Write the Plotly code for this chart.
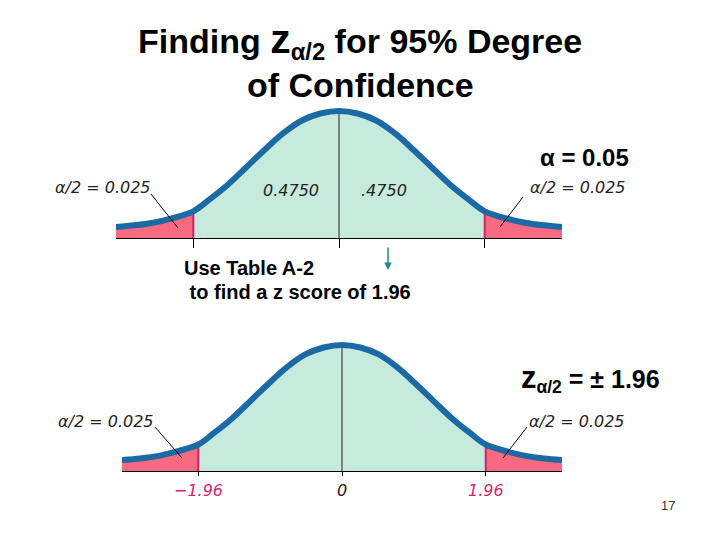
import plotly.graph_objects as go

# curve heights (peak scaled to 0.40), same shape in both panels
z = [-3.0, -2.75, -2.5, -2.25, -1.96, -1.75, -1.5, -1.25, -1.0, -0.75, -0.5, -0.25, 0.0,
     0.25, 0.5, 0.75, 1.0, 1.25, 1.5, 1.75, 1.96, 2.25, 2.5, 2.75, 3.0]
height = [0.035, 0.040, 0.048, 0.062, 0.084, 0.120, 0.167, 0.222, 0.278, 0.330, 0.370, 0.392, 0.400,
          0.392, 0.370, 0.330, 0.278, 0.222, 0.167, 0.120, 0.084, 0.062, 0.048, 0.040, 0.035]
crit = 1.96
tick_vals = [-1.96, 0, 1.96]
tick_text = ["\u22121.96", "0", "1.96"]
tail_label = "\u03b1/2 = 0.025"
center_labels = ["0.4750", ".4750"]

BLUE = "#1b6aa5"
MINT = "#c6eadb"
PINK = "#f86a80"
MAGENTA = "#d81e6e"

W, H = 720, 540


def px(x):
    return x / W


def py(y):
    return 1 - y / H


i_lo = z.index(-crit)
i_hi = z.index(crit)
i_mid = z.index(0.0)

fig = go.Figure()

panels = [("x", "y"), ("x2", "y2")]
for xa, ya in panels:
    common = dict(xaxis=xa, yaxis=ya, mode="lines", line_shape="spline",
                  hoverinfo="skip", showlegend=False)
    # tails and centre area
    fig.add_trace(go.Scatter(x=z[:i_lo + 1], y=height[:i_lo + 1], fill="tozeroy",
                             fillcolor=PINK, line=dict(width=0, color=PINK), **common))
    fig.add_trace(go.Scatter(x=z[i_lo:i_hi + 1], y=height[i_lo:i_hi + 1], fill="tozeroy",
                             fillcolor=MINT, line=dict(width=0, color=MINT), **common))
    fig.add_trace(go.Scatter(x=z[i_hi:], y=height[i_hi:], fill="tozeroy",
                             fillcolor=PINK, line=dict(width=0, color=PINK), **common))
    # centre line and critical value lines
    fig.add_trace(go.Scatter(x=[0, 0], y=[0, height[i_mid]], xaxis=xa, yaxis=ya, mode="lines",
                             line=dict(color="#222222", width=1), hoverinfo="skip", showlegend=False))
    for i in (i_lo, i_hi):
        fig.add_trace(go.Scatter(x=[z[i], z[i]], y=[0, height[i]], xaxis=xa, yaxis=ya, mode="lines",
                                 line=dict(color=MAGENTA, width=2), hoverinfo="skip", showlegend=False))
    fig.add_trace(go.Scatter(x=z, y=height, line=dict(color=BLUE, width=6), **common))

axis_x = dict(range=[-3, 3], showgrid=False, zeroline=False, showline=True, linecolor="black",
              linewidth=1, ticks="outside", tickvals=tick_vals, tickcolor="black", tickwidth=1,
              showticklabels=False, fixedrange=True)
axis_y = dict(range=[0, 0.45], visible=False, showgrid=False, zeroline=False, fixedrange=True)

fig.update_layout(
    width=W, height=H,
    margin=dict(l=0, r=0, t=0, b=0),
    paper_bgcolor="white", plot_bgcolor="rgba(0,0,0,0)",
    xaxis=dict(axis_x, domain=[px(116), px(562)], anchor="y", ticklen=9),
    yaxis=dict(axis_y, domain=[py(238), py(95.1)], anchor="x"),
    xaxis2=dict(axis_x, domain=[px(122), px(562)], anchor="y2", ticklen=4),
    yaxis2=dict(axis_y, domain=[py(471), py(329.25)], anchor="x2"),
    font=dict(family="Liberation Sans, Arial", color="black"),
)

ann = []
# title
ann.append(dict(x=px(360), y=py(40), text="<b>Finding <span style='font-size:41px'>z</span>"
                "<sub>\u03b1/2</sub> for 95% Degree</b>", font=dict(size=34)))
ann.append(dict(x=px(360), y=py(85), text="<b>of Confidence</b>", font=dict(size=34)))
ann.append(dict(x=px(584), y=py(157), text="<b>\u03b1 = 0.05</b>", font=dict(size=24)))
ann.append(dict(x=px(590), y=py(378), text="<b><span style='font-size:31px'>z</span>"
                "<sub>\u03b1/2</sub> = \u00b1 1.96</b>", font=dict(size=25)))
ann.append(dict(x=px(182), y=py(268), text="<b>Use Table A-2</b>", xanchor="left", font=dict(size=20)))
ann.append(dict(x=px(182), y=py(292), text="<b> to find a z score of 1.96</b>", xanchor="left",
                font=dict(size=20)))
ann.append(dict(x=px(668), y=py(505), text="17", font=dict(size=13, color="#333333")))

# tail / area labels
thin = dict(family="DejaVu Sans, Liberation Sans", size=16, color="#222222")
for cx, cy in [(103, 187), (578, 187), (106, 421), (577, 421)]:
    ann.append(dict(x=px(cx), y=py(cy), text="<i>" + tail_label + "</i>", font=thin))
for lab, cx in zip(center_labels, [291, 384]):
    ann.append(dict(x=px(cx), y=py(191), text="<i>" + lab + "</i>", font=thin))

for a in ann:
    a.setdefault("xanchor", "center")
    a.setdefault("yanchor", "middle")

# bottom axis labels
for v, t in zip(tick_vals, tick_text):
    col = "#222222" if v == 0 else MAGENTA
    ann.append(dict(x=v, y=0, xref="x2", yref="y2", yanchor="top", xanchor="center", yshift=-8,
                    text="<i>" + t + "</i>", font=dict(family="DejaVu Sans", size=16, color=col)))

for a in ann:
    a.setdefault("xref", "paper")
    a.setdefault("yref", "paper")
    a.setdefault("showarrow", False)

# teal arrow
ann.append(dict(x=px(388), y=py(270), xref="paper", yref="paper", ax=0, ay=-24, text="",
                showarrow=True, arrowhead=2, arrowsize=1, arrowwidth=1.5, arrowcolor="#1e8a8c"))
fig.update_layout(annotations=ann)

# leader lines from labels to tails
leaders = [(151, 194, 178, 228), (523, 197, 500, 227), (155, 427, 182, 458), (527, 427, 503, 458)]
for x0, y0, x1, y1 in leaders:
    fig.add_shape(type="line", xref="paper", yref="paper", x0=px(x0), y0=py(y0), x1=px(x1), y1=py(y1),
                  line=dict(color="black", width=1))

fig.write_html("out.html", config={"displayModeBar": False},
               post_script="document.body.style.margin='0';")
